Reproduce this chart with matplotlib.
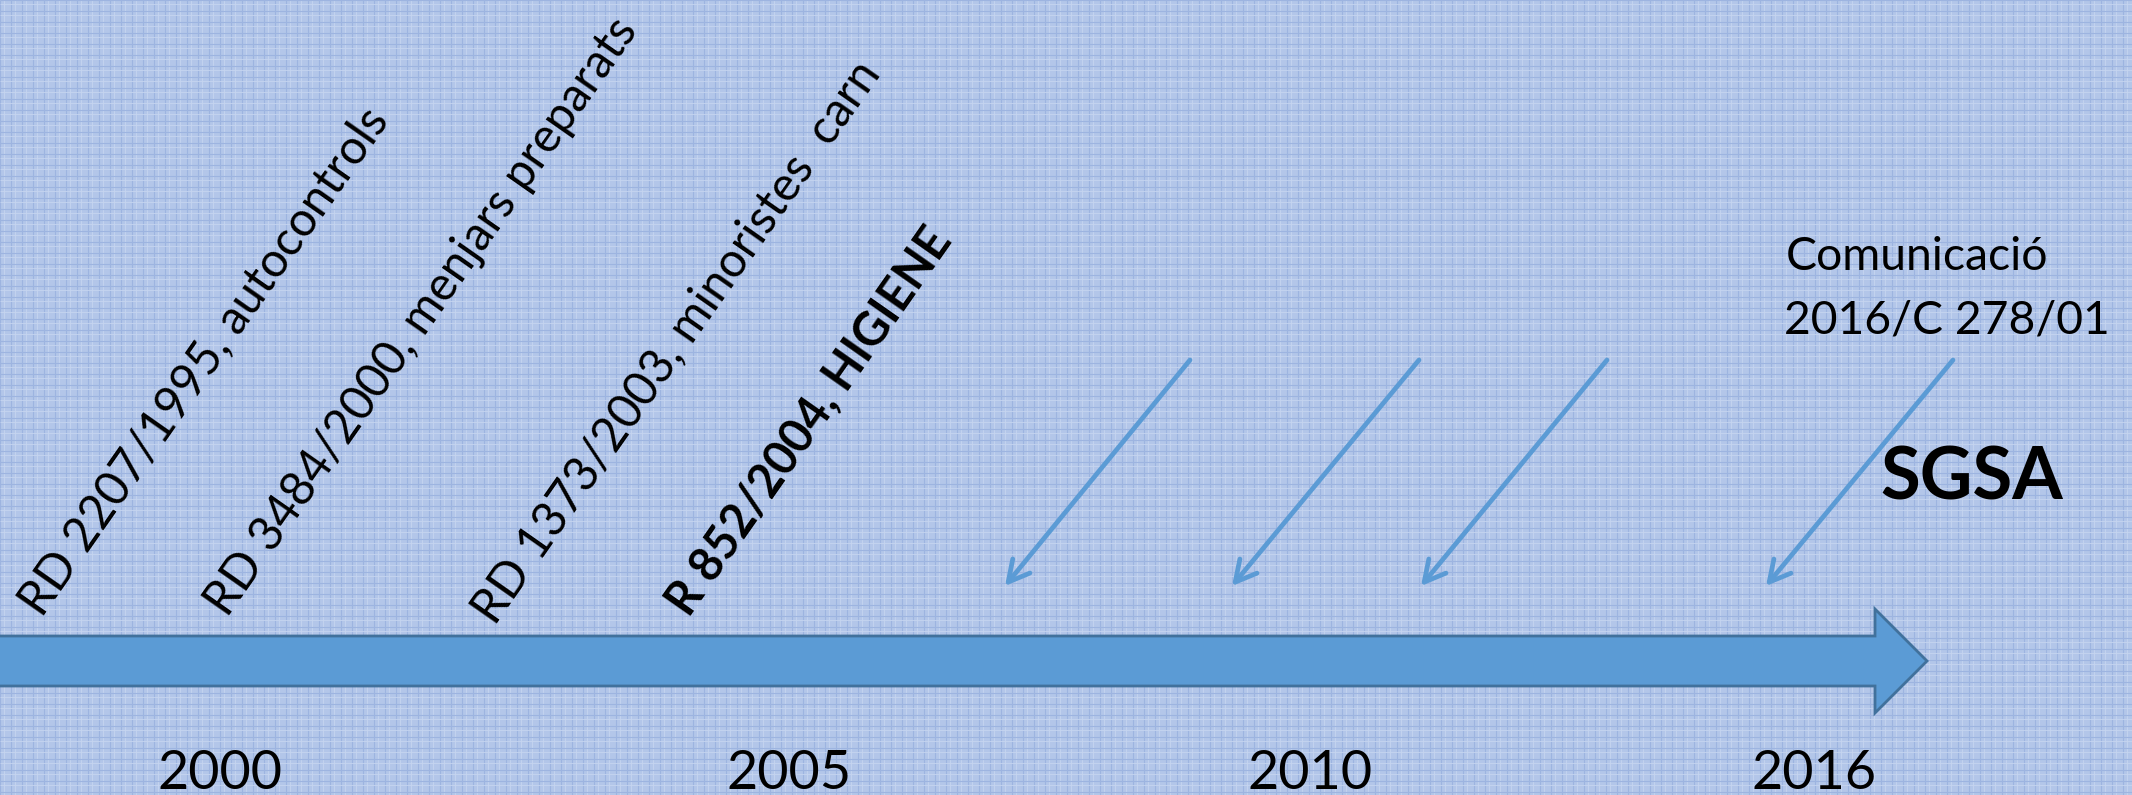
import numpy as np
import matplotlib.pyplot as plt
from matplotlib.patches import FancyArrow

plt.rcParams['font.family'] = ['Lato', 'DejaVu Sans']

# ------- dades del diagrama -------
years = ['2000', '2005', '2010', '2016']
rules = ['RD 2207/1995, autocontrols',
         'RD 3484/2000, menjars preparats',
         'RD 1373/2003, minoristes  carn',
         'R 852/2004, HIGIENE']
rule_bold = [False, False, False, True]
note_lines = ['Comunicació', '2016/C 278/01']
highlight = 'SGSA'

# ------- posicions (pixels de la imatge) -------
W, H = 2132, 795
year_x = [220, 789, 1310, 1814]
year_base = 789
rule_anchor = [(42, 618), (227, 618), (495, 626), (688, 618)]
arrow_from = [(1190, 360), (1419, 360), (1607, 360), (1953, 360)]
arrow_to = [(1005, 586), (1232, 586), (1421, 586), (1766, 586)]

bg = '#b3c6e9'
blue = '#5b9bd5'
edge = '#41719c'

fig = plt.figure(figsize=(W / 100, H / 100), dpi=100)
fig.patch.set_facecolor(bg)
ax = fig.add_axes([0, 0, 1, 1])
ax.set_xlim(0, W)
ax.set_ylim(H, 0)
ax.axis('off')

# textura de fons (trama de teixit)
grid = np.arange(0, W + 11, 11)
ax.vlines(grid, 0, H, color='#9db4e0', lw=0.8, zorder=0)
ax.vlines(grid + 4, 0, H, color='#c6d5f0', lw=0.6, zorder=0)
ax.hlines(grid[grid < H + 11], 0, W, color='#9db4e0', lw=0.8, zorder=0)
ax.hlines(grid[grid < H + 11] + 4, 0, W, color='#c6d5f0', lw=0.6, zorder=0)

renderer = fig.canvas.get_renderer()


def text_width(s, size, weight='normal'):
    t = ax.text(0, 0, s, fontsize=size, fontweight=weight)
    w = t.get_window_extent(renderer).width
    t.remove()
    return w


# mides de lletra ajustades a l'amplada del text original
rule_size = 40 * (600 + 681) / (text_width(rules[0], 40) + text_width(rules[2], 40))
bold_size = 40 * 462 / text_width(rules[3], 40, 'bold')
note_size = 1.05 * 40 * (275 + 285) / (text_width(note_lines[0], 40) + text_width(note_lines[1], 40))
sgsa_size = 60 * 183 / text_width(highlight, 60, 'bold')
year_size = 1.02 * 50 * 123 / text_width(years[0], 50)

# fletxa principal del temps
ax.add_patch(FancyArrow(-10, 661, 1937, 0, width=50, head_width=104, head_length=52,
                        length_includes_head=True, fc=blue, ec=edge, lw=2, zorder=2))

# fletxes petites
for (x0, y0), (x1, y1) in zip(arrow_from, arrow_to):
    ax.annotate('', xy=(x1, y1), xytext=(x0, y0),
                arrowprops=dict(arrowstyle='->,head_length=0.75,head_width=0.4',
                                color=blue, lw=3.4, shrinkA=0, shrinkB=0,
                                mutation_scale=20), zorder=3)

# normatives en diagonal
for s, b, (x, y) in zip(rules, rule_bold, rule_anchor):
    ax.text(x, y, s, rotation=55, rotation_mode='anchor', ha='left', va='baseline',
            fontsize=bold_size if b else rule_size,
            fontweight='bold' if b else 'normal', color='black', zorder=4)

# anys
for s, x in zip(years, year_x):
    ax.text(x, year_base, s, ha='center', va='baseline', fontsize=year_size, zorder=4)

ax.text(1786, 270, note_lines[0], ha='left', va='baseline', fontsize=note_size, zorder=4)
ax.text(1784, 333, note_lines[1], ha='left', va='baseline', fontsize=note_size, zorder=4)
ax.text(1880, 500, highlight, ha='left', va='baseline', fontsize=sgsa_size,
        fontweight='bold', zorder=4)

fig.savefig('out.png', dpi=100, facecolor=bg)
